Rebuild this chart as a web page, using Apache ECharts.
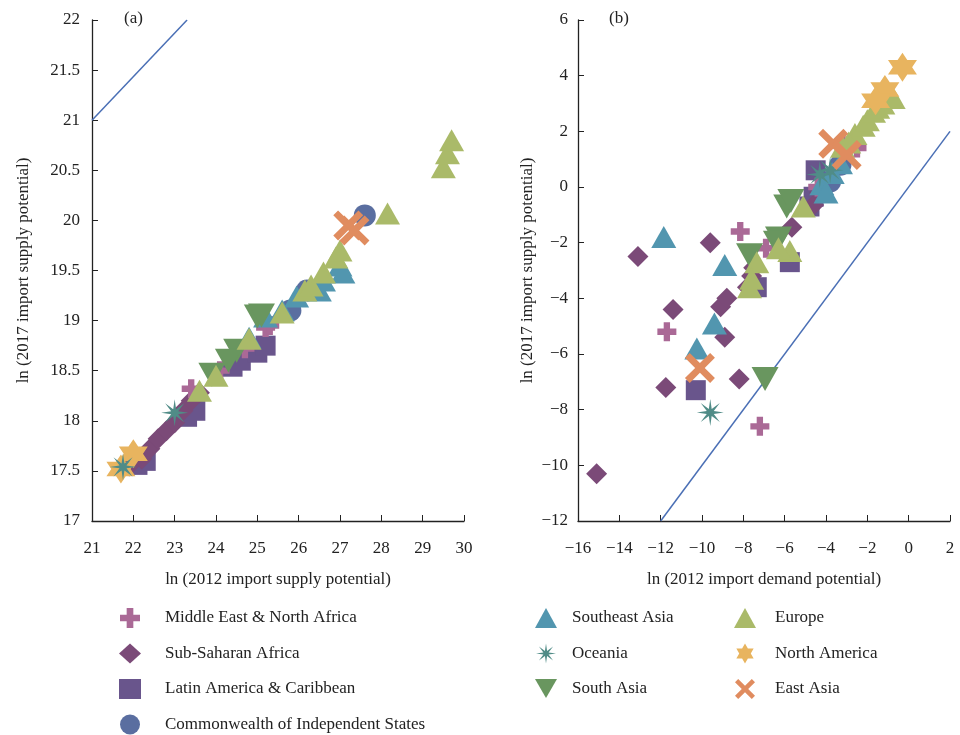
<!DOCTYPE html>
<html>
<head>
<meta charset="utf-8">
<script src="https://cdn.jsdelivr.net/npm/echarts@6/dist/echarts.min.js"></script>
<style>
  html, body { margin: 0; padding: 0; background: #fff; }
  #chart { width: 960px; height: 735px; }
</style>
</head>
<body>
<div id="chart"></div>
<script>
// region names (legend order)
var regions = ['Middle East & North Africa', 'Sub-Saharan Africa', 'Latin America & Caribbean',
  'Commonwealth of Independent States', 'Southeast Asia', 'Oceania', 'South Asia',
  'Europe', 'North America', 'East Asia']

// panel (a): [ln 2012 supply, ln 2017 supply]
var aMENA = [[23.4, 18.32], [24.1, 18.5], [24.7, 18.72], [25.2, 18.93], [25.3, 18.95], [26.2, 19.3]]
var aSSA = [[21.9, 17.55], [22.2, 17.62], [22.4, 17.72], [22.6, 17.82], [22.8, 17.9], [23.0, 17.98],
  [23.2, 18.1], [23.4, 18.2], [23.6, 18.28]]
var aLAC = [[22.1, 17.56], [22.3, 17.6], [23.3, 18.04], [23.5, 18.1], [24.4, 18.54], [24.6, 18.6],
  [25.0, 18.68], [25.2, 18.75]]
var aCIS = [[25.8, 19.1], [26.2, 19.3], [27.6, 20.05]]
var aSEA = [[24.8, 18.83], [25.2, 19.04], [25.6, 19.1], [25.95, 19.24], [26.5, 19.3], [26.6, 19.4],
  [27.07, 19.48], [27.0, 19.55]]
var aOCE = [[21.75, 17.54], [23.0, 18.08]]
var aSA = [[23.9, 18.46], [24.5, 18.7], [25.0, 19.04], [25.1, 19.05], [24.3, 18.6]]
var aEUR = [[23.6, 18.3], [24.0, 18.45], [24.8, 18.82], [25.6, 19.08], [26.15, 19.3], [26.3, 19.35],
  [26.6, 19.48], [26.9, 19.63], [27.0, 19.7], [28.15, 20.07], [29.5, 20.53], [29.6, 20.67], [29.7, 20.8]]
var aNA = [[21.7, 17.52], [22.0, 17.67]]
var aEA = [[27.2, 19.95], [27.35, 19.9]]

// panel (b): [ln 2012 demand, ln 2017 supply]
var bMENA = [[-11.7, -5.2], [-7.2, -8.6], [-8.15, -1.6], [-6.9, -2.2], [-4.4, 0.0], [-3.2, 1.5], [-2.5, 1.4]]
var bSSA = [[-15.1, -10.3], [-13.1, -2.5], [-9.6, -2.0], [-11.4, -4.4], [-11.75, -7.2], [-8.2, -6.9],
  [-8.9, -5.4], [-9.1, -4.3], [-8.8, -4.0], [-7.8, -3.6], [-7.6, -3.2], [-5.65, -1.45], [-4.6, -0.65],
  [-4.3, -0.2], [-7.5, -2.9]]
var bLAC = [[-10.3, -7.3], [-7.35, -3.6], [-5.75, -2.7], [-4.6, -0.35], [-4.5, 0.6], [-4.8, -0.7]]
var bCIS = [[-3.3, 0.8], [-3.8, 0.2]]
var bSEA = [[-11.85, -1.8], [-8.9, -2.8], [-9.4, -4.9], [-10.25, -5.8], [-3.3, 0.85], [-3.7, 0.5],
  [-4.2, 0.1], [-4.0, -0.2]]
var bOCE = [[-9.6, -8.1], [-4.3, 0.45], [-3.8, 0.6]]
var bSA = [[-6.95, -6.9], [-7.7, -2.45], [-6.3, -1.85], [-5.9, -0.7], [-6.4, -2.0], [-5.7, -0.5]]
var bEUR = [[-7.35, -2.7], [-5.75, -2.3], [-7.7, -3.6], [-5.1, -0.7], [-7.6, -3.3], [-6.3, -2.2],
  [-3.2, 1.45], [-2.6, 1.9], [-2.2, 2.2], [-2.0, 2.4], [-1.7, 2.7], [-1.5, 2.85], [-1.25, 3.0],
  [-0.75, 3.2], [-2.9, 1.6]]
var bNA = [[-0.3, 4.3], [-1.15, 3.5], [-1.6, 3.1]]
var bEA = [[-10.1, -6.5], [-3.65, 1.55], [-3.0, 1.15]]

// reference lines
var aLine = [[21, 21], [23.3, 22]]
var bLine = [[-12, -12], [2, 2]]

// star shaped symbol path
function starPath(n, r1, r2) {
  var s = 'path://'
  for (var i = 0; i < n * 2; i++) {
    var r = i % 2 ? r2 : r1
    var a = Math.PI * i / n - Math.PI / 2
    s += (i ? 'L' : 'M') + (10 + r * Math.cos(a)).toFixed(2) + ',' + (10 + r * Math.sin(a)).toFixed(2)
  }
  return s + 'Z'
}

var sym = {
  plus: 'path://M3,0H6V3H9V6H6V9H3V6H0V3H3Z',
  cross: 'path://M0,1.6L1.6,0L5,3.4L8.4,0L10,1.6L6.6,5L10,8.4L8.4,10L5,6.6L1.6,10L0,8.4L3.4,5Z',
  down: 'path://M0,0L2,0L1,1.732Z',
  ast: starPath(8, 10, 2.8),
  hex: starPath(6, 10, 5.77)
}

var looks = {
  'Middle East & North Africa': { color: '#AA6996', symbol: sym.plus, size: 19 },
  'Sub-Saharan Africa': { color: '#7B4A78', symbol: 'diamond', size: 21 },
  'Latin America & Caribbean': { color: '#69558C', symbol: 'rect', size: 20 },
  'Commonwealth of Independent States': { color: '#5A6EA0', symbol: 'circle', size: 22 },
  'Southeast Asia': { color: '#5296AF', symbol: 'triangle', size: [25, 22] },
  'Oceania': { color: '#508C87', symbol: sym.ast, size: 27 },
  'South Asia': { color: '#69965F', symbol: sym.down, size: [27, 24] },
  'Europe': { color: '#AABA69', symbol: 'triangle', size: [25, 22] },
  'North America': { color: '#E8B45F', symbol: sym.hex, size: 29 },
  'East Asia': { color: '#E08C5F', symbol: sym.cross, size: 30 }
}

var aSets = {
  'Middle East & North Africa': aMENA, 'Sub-Saharan Africa': aSSA, 'Latin America & Caribbean': aLAC,
  'Commonwealth of Independent States': aCIS, 'Southeast Asia': aSEA, 'Oceania': aOCE,
  'South Asia': aSA, 'Europe': aEUR, 'North America': aNA, 'East Asia': aEA
}
var bSets = {
  'Middle East & North Africa': bMENA, 'Sub-Saharan Africa': bSSA, 'Latin America & Caribbean': bLAC,
  'Commonwealth of Independent States': bCIS, 'Southeast Asia': bSEA, 'Oceania': bOCE,
  'South Asia': bSA, 'Europe': bEUR, 'North America': bNA, 'East Asia': bEA
}

// draw order (later on top)
var drawOrder = ['Latin America & Caribbean', 'Sub-Saharan Africa', 'Middle East & North Africa',
  'Commonwealth of Independent States', 'Southeast Asia', 'South Asia', 'Europe',
  'North America', 'Oceania', 'East Asia']

var font = 'Liberation Serif'
var minus = function (v) { return String(v).replace('-', '\u2212') }

var series = []
drawOrder.forEach(function (name) {
  var lk = looks[name]
  ;[[0, aSets[name]], [1, bSets[name]]].forEach(function (p) {
    series.push({
      name: name,
      type: 'scatter',
      xAxisIndex: p[0],
      yAxisIndex: p[0],
      data: p[1],
      symbol: lk.symbol,
      symbolSize: lk.size,
      itemStyle: { color: lk.color, opacity: 1 },
      emphasis: { disabled: true }
    })
  })
})
series.push({ type: 'line', xAxisIndex: 0, yAxisIndex: 0, data: aLine, symbol: 'none',
  lineStyle: { color: '#4A6FB5', width: 1.5 }, z: 1, silent: true })
series.push({ type: 'line', xAxisIndex: 1, yAxisIndex: 1, data: bLine, symbol: 'none',
  lineStyle: { color: '#4A6FB5', width: 1.5 }, z: 1, silent: true })

function axis(opt, labelMargin) {
  return Object.assign({
    type: 'value',
    nameLocation: 'middle',
    nameTextStyle: { fontFamily: font, fontSize: 17, color: '#222' },
    splitLine: { show: false },
    axisLine: { onZero: false, lineStyle: { color: '#222', width: 1.3 } },
    axisTick: { inside: true, length: 6, lineStyle: { color: '#222' } },
    axisLabel: { fontFamily: font, fontSize: 17, color: '#222', formatter: minus, margin: labelMargin }
  }, opt)
}

function legend(names, left, pad) {
  return {
    orient: 'vertical',
    left: left,
    top: 608,
    padding: 0,
    itemWidth: 22,
    itemHeight: 20,
    itemGap: 15.5,
    data: names.map(function (n) { return { name: n, icon: looks[n].symbol } }),
    textStyle: { fontFamily: font, fontSize: 17, color: '#222', padding: [0, 0, 0, pad] },
    selectedMode: false
  }
}

var chart = echarts.init(document.getElementById('chart'), null, { renderer: 'canvas' })
chart.setOption({
  animation: false,
  backgroundColor: '#fff',
  grid: [
    { left: 92, top: 20, width: 372, height: 501 },
    { left: 578, top: 20, width: 372, height: 501 }
  ],
  xAxis: [
    axis({ gridIndex: 0, min: 21, max: 30, interval: 1, name: 'ln (2012 import supply potential)', nameGap: 50 }, 19),
    axis({ gridIndex: 1, min: -16, max: 2, interval: 2, name: 'ln (2012 import demand potential)', nameGap: 50 }, 19)
  ],
  yAxis: [
    axis({ gridIndex: 0, min: 17, max: 22, interval: 0.5, name: 'ln (2017 import supply potential)', nameGap: 60 }, 12),
    axis({ gridIndex: 1, min: -12, max: 6, interval: 2, name: 'ln (2017 import supply potential)', nameGap: 42 }, 10)
  ],
  legend: [
    legend(regions.slice(0, 4), 119, 19),
    legend(regions.slice(4, 7), 535, 10),
    legend(regions.slice(7, 10), 734, 14)
  ],
  graphic: [
    { type: 'text', left: 124, top: 10, style: { text: '(a)', font: '17px "Liberation Serif"', fill: '#222' } },
    { type: 'text', left: 609, top: 10, style: { text: '(b)', font: '17px "Liberation Serif"', fill: '#222' } }
  ],
  series: series
})
</script>
</body>
</html>
